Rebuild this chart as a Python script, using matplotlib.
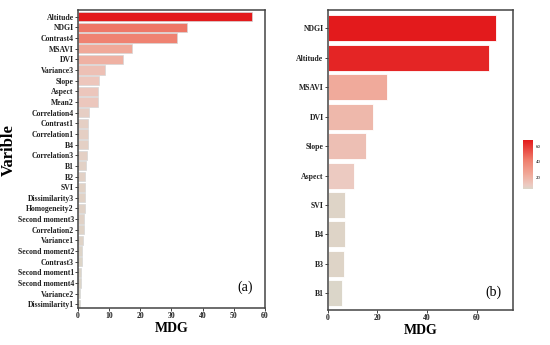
import matplotlib.pyplot as plt
from matplotlib.colors import LinearSegmentedColormap, Normalize
from matplotlib.cm import ScalarMappable

plt.rcParams["font.family"] = "Liberation Serif"

# panel (a): all variables
vars_a = ["Altitude", "NDGI", "Contrast4", "MSAVI", "DVI", "Variance3", "Slope",
          "Aspect", "Mean2", "Correlation4", "Contrast1", "Correlation1", "B4",
          "Correlation3", "B1", "B2", "SVI", "Dissimilarity3", "Homogeneity2",
          "Second moment3", "Correlation2", "Variance1", "Second moment2",
          "Contrast3", "Second moment1", "Second moment4", "Variance2",
          "Dissimilarity1"]
mdg_a = [55.9, 34.9, 31.7, 17.4, 14.3, 8.7, 6.7, 6.5, 6.4, 3.6, 3.3, 3.2, 3.1,
         3.0, 2.5, 2.4, 2.3, 2.2, 2.1, 2.0, 1.8, 1.7, 1.3, 1.2, 1.0, 0.9, 0.8, 0.6]

# panel (b): selected variables
vars_b = ["NDGI", "Altitude", "MSAVI", "DVI", "Slope", "Aspect", "SVI", "B4", "B3", "B1"]
mdg_b = [67.7, 65.0, 23.7, 18.1, 15.3, 10.6, 6.8, 6.8, 6.7, 5.6]

cmap = LinearSegmentedColormap.from_list(
    "mdg",
    [(0.0, "#dbd6c9"), (0.08, "#eccac1"), (0.3, "#f0a999"),
     (0.6, "#ef7c6b"), (1.0, "#e31a1c")])

fig = plt.figure(figsize=(5.5, 3.45), dpi=100)
ax1 = fig.add_axes([0.1418, 0.107, 0.340, 0.864])
ax2 = fig.add_axes([0.596, 0.101, 0.337, 0.870])
cax = fig.add_axes([0.951, 0.452, 0.018, 0.142])

norm_a = Normalize(min(mdg_a), max(mdg_a))
ax1.barh(range(len(vars_a)), mdg_a, height=0.87,
         color=[cmap(norm_a(v)) for v in mdg_a], edgecolor="#d6d6d6", linewidth=0.5)
ax1.set_yticks(range(len(vars_a)))
ax1.set_yticklabels(vars_a, fontsize=5.6, fontweight="bold")
ax1.set_ylim(27.35, -0.63)
ax1.set_xlim(0, 60)
ax1.set_xticks([0, 10, 20, 30, 40, 50, 60])
ax1.set_xlabel("MDG", fontsize=10, fontweight="bold", labelpad=1)
ax1.set_ylabel("Varible", fontsize=12, fontweight="bold")
ax1.yaxis.set_label_coords(-0.326, 0.53)
ax1.text(0.893, 0.07, "(a)", transform=ax1.transAxes, fontsize=10,
         ha="center", va="center")

norm_b = Normalize(min(mdg_b), max(mdg_b))
ax2.barh(range(len(vars_b)), mdg_b, height=0.88,
         color=[cmap(norm_b(v)) for v in mdg_b], edgecolor="white", linewidth=0.6)
ax2.set_yticks(range(len(vars_b)))
ax2.set_yticklabels(vars_b, fontsize=5.6, fontweight="bold")
ax2.set_ylim(9.57, -0.62)
ax2.set_xlim(0, 74.7)
ax2.set_xticks([0, 20, 40, 60])
ax2.set_xlabel("MDG", fontsize=10, fontweight="bold", labelpad=1)
ax2.text(0.891, 0.06, "(b)", transform=ax2.transAxes, fontsize=10,
         ha="center", va="center")

for ax in (ax1, ax2):
    for s in ax.spines.values():
        s.set_color("#444444")
        s.set_linewidth(1.1)
    ax.tick_params(axis="both", length=2, width=0.6, pad=1, colors="#222222")
    for t in ax.get_xticklabels():
        t.set_fontsize(5.6)
        t.set_fontweight("bold")

cb = fig.colorbar(ScalarMappable(norm=norm_b, cmap=cmap), cax=cax, ticks=[20, 40, 60])
cb.outline.set_visible(False)
cax.tick_params(labelsize=3.5, length=0, pad=2)

plt.savefig("out.png", dpi=100)
plt.close()
